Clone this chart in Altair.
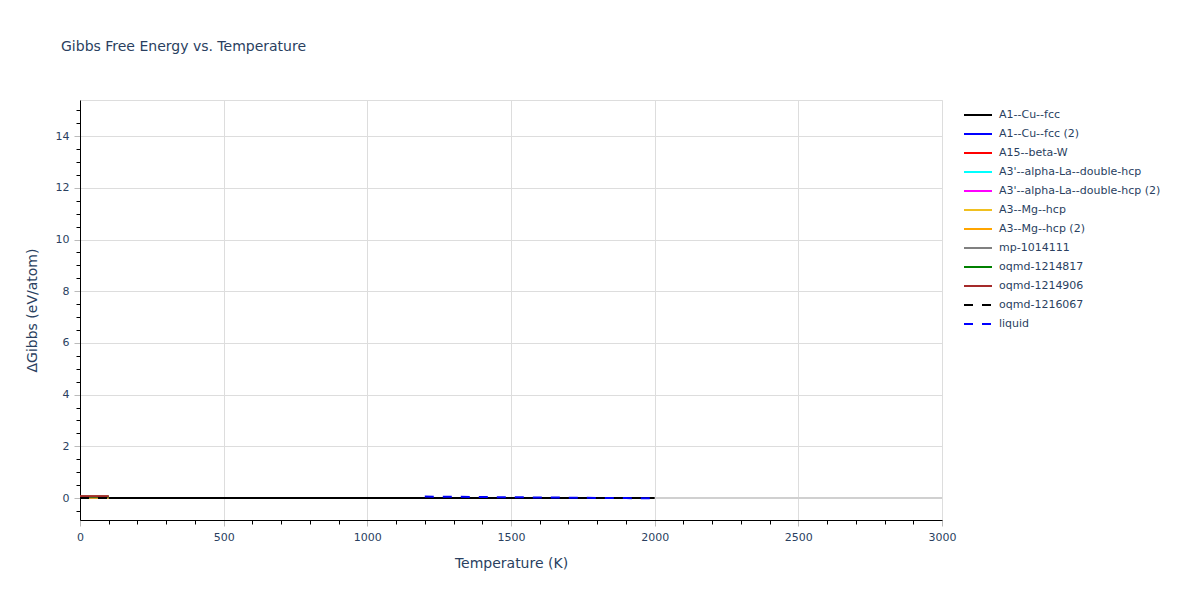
import altair as alt
import pandas as pd

# ---- data ----
series_names = [
    "A1--Cu--fcc", "A1--Cu--fcc (2)", "A15--beta-W",
    "A3'--alpha-La--double-hcp", "A3'--alpha-La--double-hcp (2)",
    "A3--Mg--hcp", "A3--Mg--hcp (2)", "mp-1014111",
    "oqmd-1214817", "oqmd-1214906", "oqmd-1216067", "liquid",
]
series_colors = [
    "black", "blue", "red", "cyan", "magenta", "#f0c020", "orange",
    "grey", "green", "brown", "black", "blue",
]
series_dash = [
    [1, 0], [1, 0], [1, 0], [1, 0], [1, 0], [1, 0], [1, 0],
    [1, 0], [1, 0], [1, 0], [9, 9], [9, 9],
]

cu_T = [0, 250, 500, 750, 1000, 1250, 1500, 1750, 2000]
cu_G = [0.0, 0.0, 0.0, 0.0, 0.0, 0.0, 0.0, 0.0, 0.0]
low_T = [0, 50, 100]
low_G = {
    "A1--Cu--fcc (2)": [0.0, 0.0, 0.0],
    "A15--beta-W": [0.06, 0.06, 0.06],
    "A3'--alpha-La--double-hcp": [0.04, 0.04, 0.04],
    "A3'--alpha-La--double-hcp (2)": [0.04, 0.04, 0.04],
    "A3--Mg--hcp": [0.01, 0.01, 0.01],
    "A3--Mg--hcp (2)": [0.02, 0.02, 0.02],
    "mp-1014111": [0.05, 0.05, 0.05],
    "oqmd-1214817": [0.05, 0.05, 0.05],
    "oqmd-1214906": [0.07, 0.07, 0.07],
    "oqmd-1216067": [0.0, 0.0, 0.0],
}
liquid_T = [1200, 1300, 1400, 1500, 1600, 1700, 1800, 1900, 2000]
liquid_G = [0.055, 0.047, 0.038, 0.03, 0.022, 0.013, 0.005, -0.003, -0.011]

rows = []
for t, g in zip(cu_T, cu_G):
    rows.append({"series": "A1--Cu--fcc", "T": t, "G": g})
for name, vals in low_G.items():
    for t, g in zip(low_T, vals):
        rows.append({"series": name, "T": t, "G": g})
for t, g in zip(liquid_T, liquid_G):
    rows.append({"series": "liquid", "T": t, "G": g})
df = pd.DataFrame(rows)

x_ticks = list(range(0, 3001, 100))
y_ticks = [v / 2 for v in range(-1, 31)]

TXT = "#2a3f5f"
FONT = "DejaVu Sans"

x_axis = alt.Axis(
    values=x_ticks, format="d",
    labelExpr="datum.value % 500 === 0 ? datum.label : ''",
    title="Temperature (K)",
    grid=True,
    gridColor="#dddddd",
    gridOpacity={"condition": {"test": "datum.value % 500 === 0", "value": 1}, "value": 0},
    tickColor={"condition": {"test": "datum.value % 500 === 0", "value": "#bbbbbb"}, "value": "black"},
    tickSize={"condition": {"test": "datum.value % 500 === 0", "value": 6}, "value": 4},
    domainColor="black",
    labelColor=TXT, labelFont=FONT, labelFontSize=11, labelPadding=5,
    titleColor=TXT, titleFont=FONT, titleFontSize=14, titleFontWeight="normal",
    titlePadding=14, labelFlush=False, labelOverlap=False,
)
y_axis = alt.Axis(
    values=y_ticks, format="~g",
    labelExpr="datum.value % 2 === 0 ? datum.label : ''",
    title="ΔGibbs (eV/atom)",
    grid=True,
    gridColor="#dddddd",
    gridOpacity={"condition": {"test": "datum.value % 2 === 0 && datum.value !== 0", "value": 1}, "value": 0},
    tickColor={"condition": {"test": "datum.value % 2 === 0", "value": "#bbbbbb"}, "value": "black"},
    tickSize={"condition": {"test": "datum.value % 2 === 0", "value": 6}, "value": 4},
    domainColor="black",
    labelColor=TXT, labelFont=FONT, labelFontSize=11, labelPadding=5,
    titleColor=TXT, titleFont=FONT, titleFontSize=14, titleFontWeight="normal",
    titlePadding=16, labelFlush=False, labelOverlap=False,
)

xs = alt.Scale(domain=[0, 3000], nice=False, zero=False)
ys = alt.Scale(domain=[-0.85, 15.4], nice=False, zero=False)

color_scale = alt.Scale(domain=series_names, range=series_colors)
dash_scale = alt.Scale(domain=series_names, range=series_dash)

zero_df = pd.DataFrame({"T0": [0], "T1": [3000], "G": [0.0]})
zero_line = alt.Chart(zero_df).mark_rule(color="#d0d0d0", strokeWidth=2).encode(
    x=alt.X("T0:Q", scale=xs, axis=x_axis),
    x2="T1:Q",
    y=alt.Y("G:Q", scale=ys, axis=y_axis),
)

legend = alt.Legend(
    title=None, orient="none", legendX=887, legendY=4,
    symbolType="M-1.4,0H1.4", symbolSize=400, symbolStrokeWidth=2,
    labelFont=FONT, labelFontSize=11, labelColor=TXT, labelLimit=0,
    rowPadding=3, labelOffset=10, symbolOffset=0,
)

layers = [zero_line]
for name in series_names:
    layers.append(
        alt.Chart(df).transform_filter(alt.datum.series == name).mark_line(strokeWidth=2).encode(
            x=alt.X("T:Q", scale=xs, axis=x_axis),
            y=alt.Y("G:Q", scale=ys, axis=y_axis),
            color=alt.Color("series:N", scale=color_scale, legend=legend, sort=series_names),
            strokeDash=alt.StrokeDash("series:N", scale=dash_scale, legend=legend, sort=series_names),
        )
    )

chart = alt.layer(*layers).properties(
    width=862, height=420,
    title=alt.TitleParams(
        "Gibbs Free Energy vs. Temperature", anchor="start", frame="group", dx=-19,
        offset=35, baseline="alphabetic",
        font=FONT, fontSize=14, fontWeight="normal", color=TXT,
    ),
    autosize=alt.AutoSizeParams(type="none"),
    padding={"left": 72, "top": 92, "right": 250, "bottom": 72},
).configure_view(stroke=None).configure(background="white")

chart.save("out.html", embed_options={"renderer": "svg", "actions": False})
